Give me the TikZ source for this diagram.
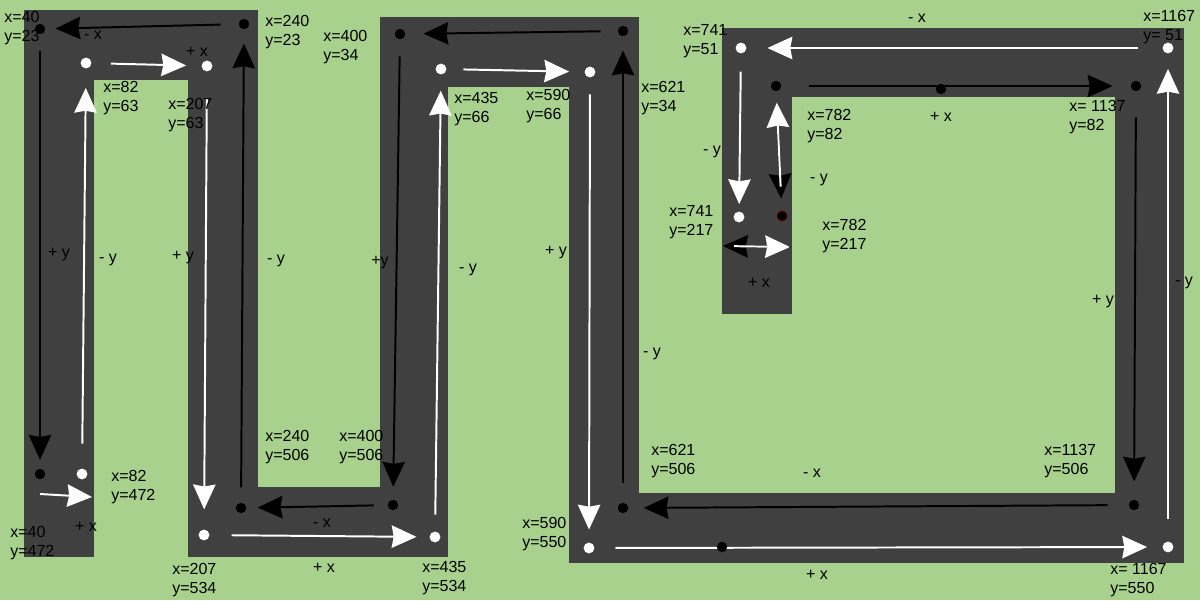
\documentclass[tikz,border=0pt]{standalone}
\usepackage{fontspec}
\setmainfont{Liberation Sans}
\usetikzlibrary{arrows.meta}
\definecolor{grass}{HTML}{A9D18E}
\definecolor{asphalt}{HTML}{404040}
\begin{document}
\begin{tikzpicture}[
    x=0.025cm, y=-0.025cm,
    road/.style={fill=asphalt},
    bdot/.style={circle, fill=black, inner sep=0pt, minimum size=0.26cm},
    wdot/.style={circle, fill=white, inner sep=0pt, minimum size=0.27cm},
    barrow/.style={draw=black, line width=1.4pt, -{Stealth[length=0.62cm, width=0.56cm, inset=0.05cm]}},
    warrow/.style={barrow, draw=white},
    gap/.style 2 args={shorten <=#1, shorten >=#2},
    coord/.style={anchor=west, align=left, inner sep=0pt, font=\fontsize{11.4}{13.5}\selectfont},
    dir/.style={inner sep=0pt, font=\fontsize{11.4}{13}\selectfont}
]
\fill[grass] (0,0) rectangle (1200,600);
\useasboundingbox (0,0) rectangle (1200,600);

\fill[road] (24,10) rectangle (94,557);
\fill[road] (24,10) rectangle (258,80);
\fill[road] (188,10) rectangle (258,557);
\fill[road] (188,487) rectangle (448,557);
\fill[road] (380,17) rectangle (448,557);
\fill[road] (380,17) rectangle (639,87);
\fill[road] (569,17) rectangle (639,563);
\fill[road] (569,493) rectangle (1184,563);
\fill[road] (1115,28) rectangle (1184,563);
\fill[road] (722,28) rectangle (1184,97);
\fill[road] (722,28) rectangle (792,314);

\node[bdot] (k40t) at (40,29) {};
\node[bdot] (k240t) at (244,24) {};
\node[bdot] (k40b) at (40,474) {};
\node[bdot] (k240b) at (241,508) {};
\node[bdot] (k400b) at (393,505) {};
\node[bdot] (k400t) at (400,34) {};
\node[bdot] (k621t) at (623,31) {};
\node[bdot] (k621b) at (623,508) {};
\node[bdot] (k1137b) at (1134,505) {};
\node[bdot] (k1137t) at (1136,86) {};
\node[bdot] (k782t) at (776,86) {};
\node[bdot, draw=red!60!black, thin] (k782b) at (782,216) {};

\node[wdot] (w82t) at (86,63) {};
\node[wdot] (w207t) at (207,66) {};
\node[wdot] (w82b) at (82,474) {};
\node[wdot] (w207b) at (204,535) {};
\node[wdot] (w435b) at (435,537) {};
\node[wdot] (w435t) at (441,69) {};
\node[wdot] (w590t) at (590,72) {};
\node[wdot] (w590b) at (589,548) {};
\node[wdot] (w1167b) at (1168,547) {};
\node[wdot] (w1167t) at (1168,48) {};
\node[wdot] (w741t) at (741,48) {};
\node[wdot] (w741b) at (739,217) {};

\coordinate (cw) at (40,494);
\coordinate (ce) at (92,497);
\coordinate (lw) at (723,246);
\coordinate (le) at (790,247);

\draw[barrow, gap={0.45cm}{0.25cm}] (k240t) -- (k40t);
\draw[barrow, gap={0.42cm}{0.22cm}] (k40t) -- (k40b);
\draw[warrow] (cw) -- (ce);
\draw[warrow, gap={0.62cm}{0.48cm}] (w82b) -- (w82t);
\draw[warrow, gap={0.48cm}{0.38cm}] (w82t) -- (w207t);
\draw[warrow, gap={0.68cm}{0.5cm}] (w207t) -- (w207b);
\draw[warrow, gap={0.55cm}{0.32cm}] (w207b) -- (w435b);
\draw[warrow, gap={0.42cm}{0.4cm}] (w435b) -- (w435t);
\draw[warrow, gap={0.42cm}{0.38cm}] (w435t) -- (w590t);
\draw[warrow, gap={0.42cm}{0.32cm}] (w590t) -- (w590b);
\draw[warrow, gap={0.52cm}{0.38cm}] (w590b) -- (w1167b);
\draw[warrow, gap={0.55cm}{0.38cm}] (w1167b) -- (w1167t);
\draw[warrow, gap={0.62cm}{0.52cm}] (w1167t) -- (w741t);
\draw[warrow, gap={0.45cm}{0.18cm}] (w741t) -- (w741b);
\draw[barrow] (le) -- (lw);
\draw[warrow, gap={0.28cm}{0pt}] (lw) -- (le);
\draw[barrow, gap={0.35cm}{0.3cm}] (k782t) -- (k782b);
\draw[warrow, gap={0.6cm}{0.28cm}] (k782b) -- (k782t);
\draw[barrow, gap={0.68cm}{0.45cm}] (k782t) -- (k1137t);
\draw[barrow, gap={0.65cm}{0.45cm}] (k1137t) -- (k1137b);
\draw[barrow, gap={0.52cm}{0.38cm}] (k1137b) -- (k621b);
\draw[barrow, gap={0.5cm}{0.35cm}] (k621b) -- (k621t);
\draw[barrow, gap={0.42cm}{0.45cm}] (k621t) -- (k400t);
\draw[barrow, gap={0.42cm}{0.32cm}] (k400t) -- (k400b);
\draw[barrow, gap={0.35cm}{0.28cm}] (k400b) -- (k240b);
\draw[barrow, gap={0.38cm}{0.35cm}] (k240b) -- (k240t);

\node[bdot] (kmid) at (722,547) {};
\node[bdot] (k941) at (941,89) {};

\node[coord] (t40t) at (4,28) {x=40\\y=23};
\node[coord] (t240t) at (265,32) {x=240\\y=23};
\node[coord] (t82t) at (103,98) {x=82\\y=63};
\node[coord] (t207t) at (168,115) {x=207\\y=63};
\node[coord] (t82b) at (111,487) {x=82\\y=472};
\node[coord] (t40b) at (10,543) {x=40\\y=472};
\node[coord] (t207b) at (172,580) {x=207\\y=534};
\node[coord] (t240b) at (265,447) {x=240\\y=506};
\node[coord] (t400b) at (339,447) {x=400\\y=506};
\node[coord] (t435b) at (422,578) {x=435\\y=534};
\node[coord] (t400t) at (323,47) {x=400\\y=34};
\node[coord] (t435t) at (454,109) {x=435\\y=66};
\node[coord] (t590t) at (526,106) {x=590\\y=66};
\node[coord] (t621t) at (641,98) {x=621\\y=34};
\node[coord] (t741t) at (683,41) {x=741\\y=51};
\node[coord] (t782t) at (807,126) {x=782\\y=82};
\node[coord] (t741b) at (669,222) {x=741\\y=217};
\node[coord] (t782b) at (822,236) {x=782\\y=217};
\node[coord] (t1167t) at (1143,27) {x=1167\\y= 51};
\node[coord] (t1137t) at (1069,117) {x= 1137\\y=82};
\node[coord] (t621b) at (651,461) {x=621\\y=506};
\node[coord] (t590b) at (522,534) {x=590\\y=550};
\node[coord] (t1137b) at (1044,461) {x=1137\\y=506};
\node[coord] (t1167b) at (1110,580) {x= 1167\\y=550};

\node[dir] (d1) at (93,35) {- x};
\node[dir] (d2) at (197,52) {+ x};
\node[dir] (d3) at (59,255) {+ y};
\node[dir] (d4) at (108,260) {- y};
\node[dir] (d5) at (183,258) {+ y};
\node[dir] (d6) at (276,261) {- y};
\node[dir] (d7) at (380,263) {+y};
\node[dir] (d8) at (468,270) {- y};
\node[dir] (d9) at (556,253) {+ y};
\node[dir] (d10) at (652,354) {- y};
\node[dir] (d11) at (86,527) {+ x};
\node[dir] (d12) at (322,523) {- x};
\node[dir] (d13) at (324,568) {+ x};
\node[dir] (d14) at (917,18) {- x};
\node[dir] (d15) at (941,117) {+ x};
\node[dir] (d16) at (712,152) {- y};
\node[dir] (d17) at (819,180) {- y};
\node[dir] (d18) at (759,283) {+ x};
\node[dir] (d19) at (1103,302) {+ y};
\node[dir] (d20) at (1184,283) {- y};
\node[dir] (d21) at (812,473) {- x};
\node[dir] (d22) at (817,575) {+ x};
\end{tikzpicture}
\end{document}
